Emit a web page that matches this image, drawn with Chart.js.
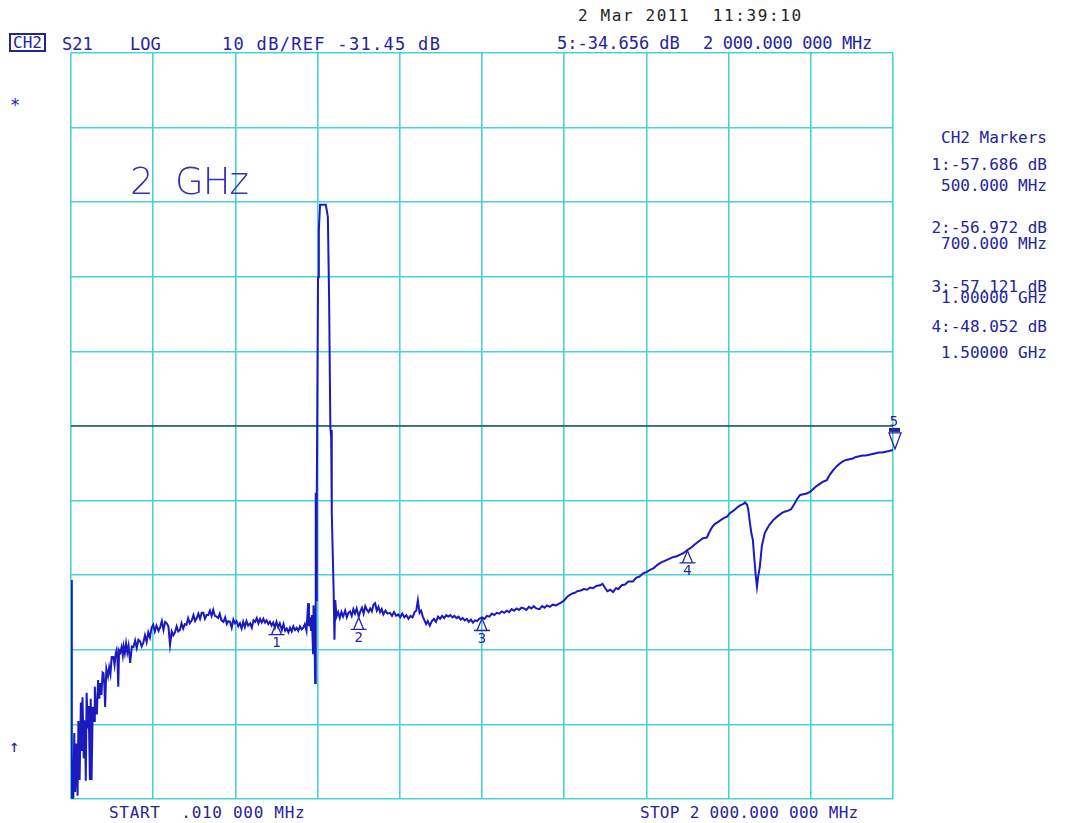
<!DOCTYPE html>
<html lang="en">
<head>
    <script src="https://cdn.jsdelivr.net/npm/chart.js"></script>
    <style>
        body { margin: 0; background: #fff; width: 1065px; height: 823px; position: relative; overflow: hidden; }
        .t { position: absolute; font-family: "DejaVu Sans Mono", monospace; font-size: 17px; line-height: 17px; color: #24249c; white-space: pre; }
        .s { font-size: 16px; line-height: 16px; }
        #chartbox { position: absolute; left: 61px; top: 43px; width: 842px; height: 766px; }
        #ch2 { border: 2px solid #24249c; padding: 1px 2px; line-height: 13px; font-size: 16px; }
        .big { position: absolute; font-family: "DejaVu Sans", sans-serif; font-weight: 200; font-size: 37px; line-height: 37px; color: #3434b0; letter-spacing: -1px; }
        .right { right: 18px; text-align: right; }
    </style>
</head>
<body>
    <div class="t s" style="left:578px; top:8px; color:#222; letter-spacing:1.6px;">2 Mar 2011  11:39:10</div>

    <div class="t" id="ch2" style="left:9px; top:33px;">CH2</div>
    <div class="t" style="left:62px; top:36px;">S21</div>
    <div class="t" style="left:130px; top:36px;">LOG</div>
    <div class="t" style="left:222px; top:36px; letter-spacing:1.3px;">10 dB/REF -31.45 dB</div>
    <div class="t" style="left:557px; top:35px;">5:-34.656 dB</div>
    <div class="t" style="left:703px; top:35px; letter-spacing:-0.3px;">2 000.000 000 MHz</div>

    <div class="t" style="left:10px; top:97px;">*</div>
    <div class="t" style="left:9px; top:738px;">↑</div>

    <div class="t s right" style="top:130px;">CH2 Markers</div>
    <div class="t s right" style="top:157px;">1:-57.686 dB</div>
    <div class="t s right" style="top:178px;">500.000 MHz</div>
    <div class="t s right" style="top:220px;">2:-56.972 dB</div>
    <div class="t s right" style="top:236px;">700.000 MHz</div>
    <div class="t s right" style="top:279px;">3:-57.121 dB</div>
    <div class="t s right" style="top:290px;">1.00000 GHz</div>
    <div class="t s right" style="top:319px;">4:-48.052 dB</div>
    <div class="t s right" style="top:345px;">1.50000 GHz</div>

    <div class="t s" style="left:109px; top:805px; letter-spacing:0.7px;">START  .010 000 MHz</div>
    <div class="t s" style="left:640px; top:805px; letter-spacing:0.3px;">STOP 2 000.000 000 MHz</div>

    <div id="chartbox">
        <canvas id="myChart" width="842" height="766"></canvas>
    </div>
    <div class="big" style="left:130px; top:163px;">2</div>
    <div class="big" style="left:175px; top:163px;">GHz</div>

    <script>
        // sweep settings
        const startMHz = 0.01;
        const stopMHz = 2000;
        const refDb = -31.45;
        const dbPerDiv = 10;
        const divisions = 10;

        // trace (MHz / dB)
        const traceFreq = [
            0.01, 2, 4, 5.6, 8, 10, 13, 16, 18, 21, 24, 26, 28, 31, 34, 36, 38, 41, 43, 46,
            48, 50, 53, 56, 58, 61, 63, 66, 69, 71, 74, 77, 79, 81, 83, 86, 90, 93, 96, 99,
            103, 106, 109, 111, 113, 115, 117, 120, 123, 126, 128, 131, 134, 137, 140, 144, 148, 152, 156, 160,
            164, 168, 172, 176, 180, 184, 188, 192, 196, 200, 204, 208, 213, 217, 221, 225, 229, 233, 237, 241,
            245, 249, 253, 257, 261, 265, 269, 273, 277, 281, 285, 289, 294, 298, 302, 306, 310, 314, 318, 322,
            326, 330, 334, 338, 342, 346, 350, 354, 358, 362, 366, 371, 375, 379, 383, 387, 391, 395, 399, 403,
            407, 411, 415, 419, 423, 427, 431, 436, 440, 444, 448, 452, 456, 460, 464, 468, 472, 476, 480, 484,
            488, 492, 496, 500, 504, 508, 513, 517, 521, 525, 529, 533, 537, 541, 545, 549, 553, 557, 561, 565,
            569, 573, 577, 579, 581, 584, 586, 589, 590, 592, 594, 595, 596, 597, 598, 601, 603, 606, 620, 625,
            628, 631, 633, 634, 635, 639, 641, 643, 646, 650, 654, 658, 662, 667, 671, 675, 679, 683, 687, 691,
            695, 700, 704, 708, 712, 716, 720, 724, 728, 732, 736, 740, 744, 748, 752, 756, 760, 765, 770, 776,
            781, 786, 791, 796, 801, 806, 811, 816, 821, 826, 831, 836, 840, 844, 848, 852, 856, 860, 864, 868,
            873, 878, 883, 888, 893, 898, 903, 908, 913, 918, 923, 928, 933, 938, 943, 948, 953, 958, 963, 968,
            973, 978, 983, 988, 993, 1000, 1006, 1012, 1018, 1024, 1030, 1036, 1042, 1048, 1054, 1060, 1066, 1072, 1078, 1084,
            1090, 1096, 1102, 1108, 1114, 1120, 1126, 1132, 1140, 1146, 1152, 1158, 1165, 1172, 1180, 1190, 1196, 1202, 1208, 1214,
            1220, 1226, 1232, 1240, 1248, 1256, 1263, 1270, 1278, 1287, 1293, 1300, 1305, 1312, 1319, 1326, 1332, 1340, 1348, 1356,
            1367, 1375, 1384, 1392, 1401, 1410, 1418, 1426, 1434, 1442, 1450, 1458, 1466, 1474, 1482, 1490, 1500, 1508, 1516, 1523,
            1530, 1538, 1547, 1554, 1560, 1566, 1572, 1580, 1588, 1596, 1604, 1612, 1620, 1628, 1636, 1640, 1645, 1648, 1652, 1656,
            1659, 1663, 1666, 1669, 1672, 1676, 1681, 1688, 1698, 1708, 1718, 1730, 1738, 1745, 1752, 1760, 1767, 1774, 1782, 1790,
            1798, 1806, 1814, 1822, 1830, 1839, 1846, 1854, 1862, 1870, 1878, 1886, 1894, 1902, 1910, 1918, 1926, 1934, 1942, 1950,
            1958, 1966, 1974, 1982, 1990, 2000
        ];
        const traceDb = [
            -52.1, -81.4, -76.2, -81.4, -72.6, -80.5, -74.0, -81.0, -71.0, -78.9, -68.5, -75.0, -67.8, -76.0, -70.9, -79.0, -67.2, -72.0, -69.0, -78.9,
            -68.0, -78.9, -69.1, -71.0, -66.4, -70.0, -69.9, -65.5, -68.0, -65.9, -67.5, -64.5, -64.6, -66.0, -69.1, -64.0, -65.0, -63.8, -64.7, -62.4,
            -62.4, -63.5, -61.9, -61.5, -62.5, -66.4, -61.5, -61.8, -61.1, -62.2, -61.0, -61.9, -60.6, -61.8, -60.9, -63.2, -61.0, -61.1, -60.2, -61.2,
            -60.1, -60.3, -61.0, -60.5, -59.5, -60.4, -59.1, -59.8, -58.5, -58.1, -59.0, -58.2, -58.9, -58.4, -57.6, -58.8, -57.7, -57.9, -58.3, -60.8,
            -59.0, -59.5, -59.1, -58.3, -59.0, -58.8, -57.9, -58.6, -58.0, -58.1, -57.2, -57.9, -57.5, -56.8, -57.6, -57.2, -56.6, -57.3, -56.5, -56.5,
            -57.3, -56.8, -56.8, -56.2, -56.9, -56.1, -56.9, -57.0, -57.2, -56.6, -57.5, -57.7, -57.1, -58.0, -57.6, -57.7, -58.5, -57.4, -57.9, -57.6,
            -58.3, -57.9, -58.6, -57.7, -58.4, -57.6, -58.2, -57.9, -58.5, -57.5, -57.7, -57.2, -57.9, -57.3, -57.8, -57.3, -57.8, -57.5, -58.0, -57.7,
            -58.2, -57.8, -58.5, -57.7, -58.4, -57.9, -58.8, -58.0, -58.9, -58.6, -59.1, -58.5, -59.0, -58.3, -58.8, -58.5, -58.9, -58.3, -58.7, -58.5,
            -58.0, -58.9, -55.2, -58.3, -57.1, -58.8, -56.8, -61.9, -55.5, -57.0, -65.9, -60.1, -40.4, -54.8, -41.4, -11.5, -5.2, -1.8, -1.8, -3.4,
            -14.3, -31.6, -32.9, -32.0, -43.1, -53.4, -60.1, -54.8, -57.0, -56.4, -57.2, -56.4, -57.0, -56.2, -57.1, -56.5, -56.3, -56.9, -56.0, -56.6,
            -55.9, -57.0, -56.3, -55.8, -56.6, -55.6, -56.1, -56.4, -55.9, -56.3, -55.4, -55.2, -56.2, -55.7, -56.4, -56.0, -56.7, -56.2, -56.6, -56.5,
            -56.9, -56.4, -56.9, -56.7, -57.1, -56.6, -57.1, -56.8, -57.3, -56.9, -57.1, -56.4, -56.2, -54.8, -56.5, -56.2, -57.0, -57.5, -58.0, -57.6,
            -58.2, -57.6, -57.3, -57.7, -57.0, -57.3, -56.9, -57.2, -56.8, -57.0, -56.8, -57.1, -56.9, -57.2, -57.0, -57.4, -57.2, -57.5, -57.3, -57.7,
            -57.4, -57.8, -57.5, -57.6, -57.3, -57.1, -57.3, -56.9, -57.0, -56.6, -56.8, -56.5, -56.6, -56.3, -56.5, -56.2, -56.4, -56.0, -56.2, -55.9,
            -56.1, -55.8, -55.9, -56.1, -55.7, -55.9, -55.6, -55.9, -56.0, -55.6, -55.8, -55.5, -55.7, -55.4, -55.5, -55.2, -55.0, -54.7, -54.3, -54.1,
            -53.9, -53.8, -53.6, -53.5, -53.3, -53.4, -53.1, -53.2, -52.9, -52.8, -52.6, -53.2, -53.6, -53.4, -53.7, -53.2, -53.3, -52.8, -52.7, -52.3,
            -52.3, -51.8, -51.6, -51.2, -51.0, -50.7, -50.5, -50.1, -49.8, -49.6, -49.4, -49.2, -49.0, -48.9, -48.7, -48.5, -48.05, -47.8, -47.4, -47.1,
            -46.8, -46.5, -46.4, -45.6, -45.0, -44.6, -44.4, -44.1, -43.8, -43.6, -43.1, -42.8, -42.4, -42.1, -41.9, -41.7, -42.0, -42.7, -44.5, -46.0,
            -46.7, -49.5, -51.5, -53.0, -51.6, -50.3, -47.5, -45.8, -44.8, -44.1, -43.6, -43.1, -42.9, -42.8, -42.6, -41.9, -41.2, -40.7, -40.6, -40.5,
            -40.3, -39.9, -39.5, -39.2, -38.9, -38.7, -38.0, -37.4, -36.9, -36.5, -36.2, -36.0, -35.9, -35.8, -35.6, -35.5, -35.4, -35.4, -35.3, -35.2,
            -35.1, -35.0, -35.0, -34.9, -34.8, -34.66
        ];

        // marker table
        const markerNum = ['1', '2', '3', '4', '5'];
        const markerFreq = [500, 700, 1000, 1500, 2000];
        const markerDb = [-57.686, -56.972, -57.121, -48.052, -34.656];
        const activeMarker = 4;

        const topDb = refDb + dbPerDiv * divisions / 2;
        const bottomDb = refDb - dbPerDiv * divisions / 2;
        const yTicks = [];
        const xTicks = [];
        for (let i = 0; i <= divisions; i++) {
            yTicks.push({ value: bottomDb + i * dbPerDiv });
            xTicks.push({ value: startMHz + i * (stopMHz - startMHz) / divisions });
        }

        const traceColor = '#1a1ac0';
        const markColor = '#2424a8';

        const markerPlugin = {
            id: 'markers',
            afterDatasetsDraw(chart) {
                const ctx = chart.ctx;
                const x = chart.scales.x, y = chart.scales.y;
                ctx.save();
                ctx.strokeStyle = markColor;
                ctx.fillStyle = markColor;
                ctx.lineWidth = 1.3;
                ctx.font = '14px "DejaVu Sans Mono"';
                ctx.textAlign = 'center';
                for (let i = 0; i < markerFreq.length; i++) {
                    const px = x.getPixelForValue(markerFreq[i]);
                    const py = y.getPixelForValue(markerDb[i]);
                    ctx.beginPath();
                    if (i === activeMarker) {
                        ctx.moveTo(px + 2, py - 1);
                        ctx.lineTo(px - 4, py - 17);
                        ctx.lineTo(px + 8, py - 17);
                        ctx.closePath();
                        ctx.stroke();
                        ctx.fillRect(px - 4, py - 22, 11, 4);
                        ctx.textBaseline = 'bottom';
                        ctx.fillText(markerNum[i], px + 1, py - 21);
                    } else {
                        ctx.moveTo(px, py + 1);
                        ctx.lineTo(px - 5, py + 13);
                        ctx.moveTo(px, py + 1);
                        ctx.lineTo(px + 5, py + 13);
                        ctx.moveTo(px - 8, py + 13);
                        ctx.lineTo(px + 8, py + 13);
                        ctx.stroke();
                        ctx.textBaseline = 'top';
                        ctx.fillText(markerNum[i], px, py + 15);
                    }
                }
                ctx.restore();
            }
        };

        const ctx = document.getElementById('myChart').getContext('2d');
        const chart = new Chart(ctx, {
            type: 'line',
            data: {
                datasets: [{
                    label: 'S21',
                    data: traceFreq.map((f, i) => ({ x: f, y: traceDb[i] })),
                    borderColor: traceColor,
                    borderWidth: 2,
                    pointRadius: 0,
                    tension: 0,
                    fill: false
                }, {
                    label: 'REF',
                    data: [{ x: startMHz, y: refDb }, { x: stopMHz, y: refDb }],
                    borderColor: '#111',
                    borderWidth: 1.2,
                    pointRadius: 0,
                    fill: false
                }]
            },
            options: {
                responsive: false,
                animation: false,
                layout: { padding: 10 },
                plugins: { legend: { display: false }, tooltip: { enabled: false } },
                scales: {
                    x: {
                        type: 'linear',
                        min: startMHz,
                        max: stopMHz,
                        afterBuildTicks: (axis) => { axis.ticks = xTicks.slice(); },
                        ticks: { display: false },
                        grid: { color: '#4ad0da', lineWidth: 1.6, drawTicks: false },
                        border: { display: false }
                    },
                    y: {
                        min: bottomDb,
                        max: topDb,
                        afterBuildTicks: (axis) => { axis.ticks = yTicks.slice(); },
                        ticks: { display: false },
                        grid: { color: '#4ad0da', lineWidth: 1.6, drawTicks: false },
                        border: { display: false }
                    }
                }
            },
            plugins: [markerPlugin]
        });
    </script>
</body>
</html>
